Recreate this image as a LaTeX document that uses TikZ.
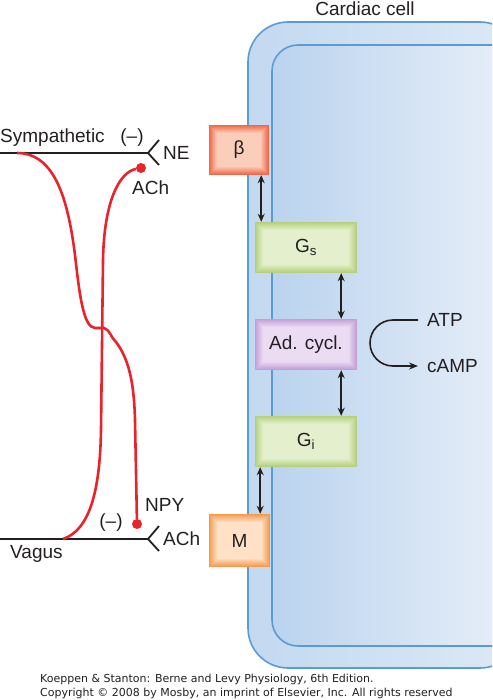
\documentclass[tikz,border=0pt]{standalone}
\usepackage{fontspec}
\setmainfont{Liberation Sans}
\newfontfamily\footfont{DejaVu Sans}
\usetikzlibrary{positioning,arrows.meta}
\definecolor{txt}{HTML}{231F20}
\definecolor{fibrered}{HTML}{E8232B}
\definecolor{memline}{HTML}{5B9BD5}
\definecolor{memleft}{HTML}{C3D9F0}
\definecolor{memright}{HTML}{DDE9F6}
\definecolor{cellleft}{HTML}{BAD3EE}
\definecolor{cellright}{HTML}{E9F0F9}
\definecolor{betadark}{HTML}{EF6848}
\definecolor{betalight}{HTML}{FCD2C0}
\definecolor{gdark}{HTML}{B4D07C}
\definecolor{glight}{HTML}{E6F0D0}
\definecolor{addark}{HTML}{C49FD6}
\definecolor{adlight}{HTML}{EEDFF4}
\definecolor{mdark}{HTML}{F59A4C}
\definecolor{mlight}{HTML}{FEE4CB}
\newcommand{\lbl}{\fontsize{19}{22}\selectfont}

\begin{document}
\begin{tikzpicture}[x=1pt, y=-1pt,
  every node/.style={inner sep=0pt, text=txt, font=\lbl},
  pbox/.style 2 args={minimum width=102pt, minimum height=51pt,
    path picture={\foreach \k [evaluate=\k as \p using int(\k*12)] in {0,...,8}
      \fill[#2!\p!#1]
        ([shift={(\k pt,\k pt)}]path picture bounding box.south west) rectangle
        ([shift={(-\k pt,-\k pt)}]path picture bounding box.north east);}},
  link/.style={{Stealth[length=8pt,width=7pt]}-{Stealth[length=8pt,width=7pt]}, line width=1.6pt, txt},
  nerve/.style={line width=1.8pt, txt},
  fibre/.style={line width=2.6pt, fibrered},
  term/.style={circle, fill=fibrered, minimum size=10pt}]
  \clip (0,0) rectangle (492,700);

  % cell
  \path[draw=memline, line width=1.6pt, left color=memleft, right color=memright,
    rounded corners=40pt] (248,22) rectangle (520,668);
  \path[draw=memline, line width=1.6pt, left color=cellleft, right color=cellright,
    rounded corners=26pt] (272,45) rectangle (520,646);
  \node (celllbl) at (365,9) {Cardiac cell};

  % receptors and proteins
  \node[pbox={betadark}{betalight}, minimum width=60pt, minimum height=50pt] (beta) at (239,150) {β};
  \node[pbox={gdark}{glight}] (gs) at (306,247.5) {G\textsubscript{s}};
  \node[pbox={addark}{adlight}] (ad) at (306,344.5) {Ad. cycl.};
  \node[pbox={gdark}{glight}] (gi) at (306,441.5) {G\textsubscript{i}};
  \node[pbox={mdark}{mlight}, minimum width=61pt, minimum height=53pt] (m) at (239.5,540.5) {M};

  \draw[link] ([xshift=-8pt]beta.south east) -- ([xshift=-8pt]beta.south east |- gs.north);
  \draw[link] ([xshift=-16pt]gs.south east) -- ([xshift=-16pt]ad.north east);
  \draw[link] ([xshift=-16pt]ad.south east) -- ([xshift=-16pt]gi.north east);
  \draw[link] ([xshift=-10pt]m.north east) -- ([xshift=-10pt]m.north east |- gi.south);

  \node[anchor=west] (atp) at (427,320) {ATP};
  \node[anchor=west] (camp) at (427,366) {cAMP};
  \draw[-{Stealth[length=9pt,width=7pt]}, line width=1.6pt, txt] ([xshift=-9pt]atp.west) -- ++(-25,0)
    arc[start angle=90, end angle=270, radius=23pt] -- ([xshift=-9pt]camp.west);

  % sympathetic nerve
  \coordinate (symstart) at (0,153);
  \coordinate (symend) at (148,153);
  \draw[nerve] (symstart) -- (symend) -- ++(11,-13);
  \draw[nerve] (symend) -- ++(11,12);
  \node[anchor=south west] (symlbl) at (0,147) {Sympathetic};
  \node (symneg) at (132,138) {(–)};
  \node (ne) [right = 15pt of symend] {NE};

  % vagus nerve
  \coordinate (vagstart) at (0,539);
  \coordinate (vagend) at (148,539);
  \draw[nerve] (vagstart) -- (vagend) -- ++(11,-13);
  \draw[nerve] (vagend) -- ++(11,12);
  \node[anchor=north west] (vaglbl) at (10,545.5) {Vagus};
  \node (vagneg) at (111,523) {(–)};
  \node (achbot) [right = 15pt of vagend] {ACh};

  % crossing fibres
  \coordinate (symbranch) at (17,153);
  \coordinate (vagbranch) at (63,539);
  \node[term] (achdot) at (141,168) {};
  \node[term] (npydot) at (137,524) {};
  \node[anchor=north west] (achtop) at (132,181) {ACh};
  \node[anchor=west] (npylbl) at (145,505) {NPY};
  \draw[fibre] (symbranch) .. controls (55,153) and (68,200) .. (75,255)
    .. controls (80,300) and (84,327) .. (95,328) -- (104,328)
    .. controls (110,330) and (110,336) .. (116,342)
    .. controls (128,358) and (134,380) .. (135,420) -- (npydot);
  \draw[fibre] (vagbranch) .. controls (90,530) and (100,490) .. (101,430)
    -- (103,260) .. controls (104,200) and (120,172) .. (achdot);

  % credit line
  \node[anchor=west, font=\footfont\fontsize{11}{12}\selectfont] (credit) at (40,679)
    {Koeppen \& Stanton: Berne and Levy Physiology, 6th Edition.};
  \node[anchor=west, font=\footfont\fontsize{11}{12}\selectfont] (copy) at (40,693)
    {Copyright © 2008 by Mosby, an imprint of Elsevier, Inc. All rights reserved};
\end{tikzpicture}
\end{document}
